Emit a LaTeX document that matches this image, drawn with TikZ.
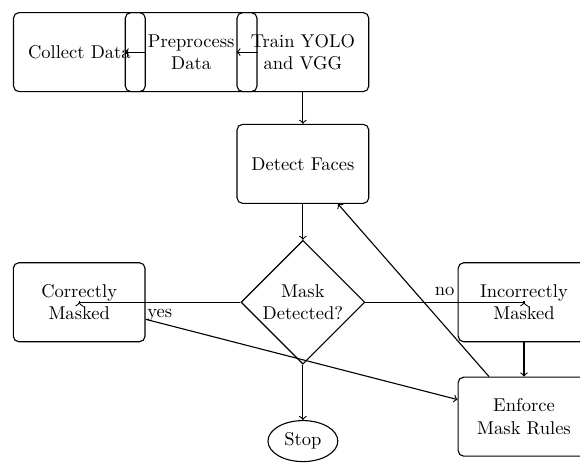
\documentclass[tikz,border=0pt]{standalone}
\usetikzlibrary{arrows, shapes.geometric, positioning}
\tikzset{
	process/.style={
		shape=rectangle,
		minimum width=2.5cm,
		minimum height=1.5cm,
		text width=2.05cm,
		text centered,
		rounded corners=3pt,
		draw,
		semithick,
	},
	question/.style={
		shape=diamond,
		aspect=1,
		minimum size=2.35cm,
		inner sep=0pt,
		text width=1.6cm,
		text centered,
		draw,
		semithick,
	},
	startstop/.style={
		shape=ellipse,
		draw,
		semithick,
	},
	myarrow/.style={->, semithick},
}
\begin{document}
\begin{tikzpicture}
	
	\node[process] (collect) {Collect Data};
	\node[process] (prep) [right = -0.4cm of collect] {Preprocess Data};
	\node[process] (train) [right = -0.4cm of prep] {Train YOLO and VGG};
	\node[process] (detect) [below = 0.6cm of train] {Detect Faces};
	\node[question] (mask) [below = 0.68cm of detect] {Mask Detected?};
	\node[process] (correct) [left = 1.8cm of mask] {Correctly Masked};
	\node[process] (incorrect) [right = 1.75cm of mask] {Incorrectly Masked};
	\node[process] (enforce) [below = 0.65cm of incorrect] {Enforce Mask Rules};
	\node[startstop] (stop) [below = 1.05cm of mask] {Stop};
	
	\path[draw,myarrow]
	(collect) edge (prep)
	(prep) edge (train)
	(train) edge (detect)
	(detect) edge (mask)
	(mask) edge (stop)
	(incorrect) edge (enforce)
	(correct) edge (enforce)
	(enforce) edge (detect);
	
	\draw[myarrow] (mask) -| node[near start, below] {yes} (correct);
	\draw[myarrow] (mask) -| node[near start, above] {no} (incorrect);
	
	\pgfresetboundingbox
	\path[use as bounding box] ([xshift=-7pt, yshift=6.5pt]collect.north west) rectangle ++(313.2pt,-249.5pt);
	
\end{tikzpicture}
\end{document}
